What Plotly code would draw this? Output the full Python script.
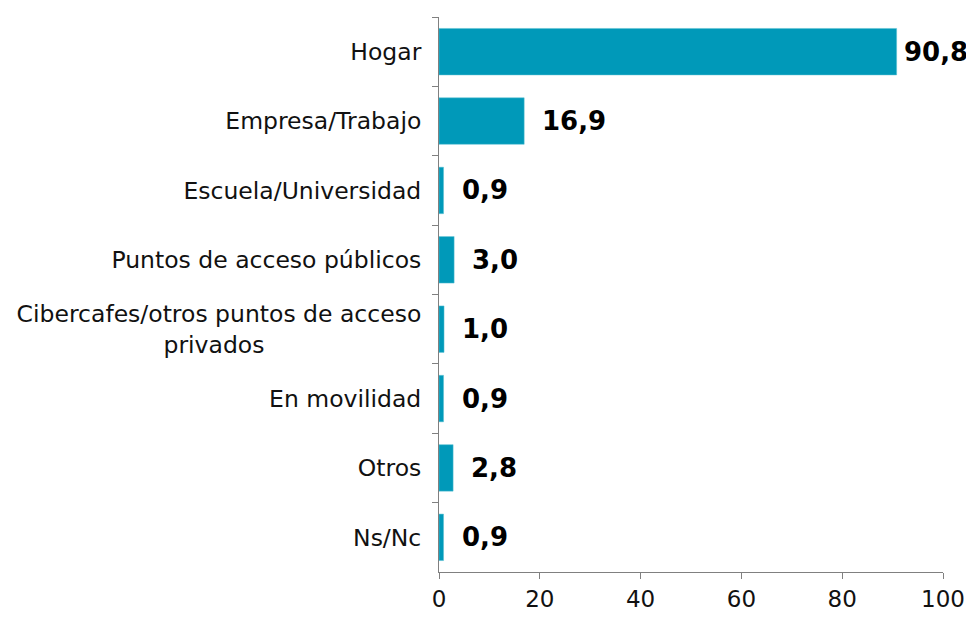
import plotly.graph_objects as go

categories = ["Hogar", "Empresa/Trabajo", "Escuela/Universidad", "Puntos de acceso públicos",
              "Cibercafes/otros puntos de acceso<br>privados" + "\u00a0" * 21,
              "En movilidad", "Otros", "Ns/Nc"]
values = [90.8, 16.9, 0.9, 3.0, 1.0, 0.9, 2.8, 0.9]
value_labels = ["90,8", "16,9", "0,9", "3,0", "1,0", "0,9", "2,8", "0,9"]
x_ticks = [0, 20, 40, 60, 80, 100]

FONT = "DejaVu Sans"
fig = go.Figure(go.Bar(
    y=categories, x=values, orientation="h",
    marker=dict(color="#0099B9", line=dict(color="#5BC0D3", width=0.5)),
    width=0.67,
))
for c, v, t in zip(categories, values, value_labels):
    fig.add_annotation(x=v, y=c, text="<b>" + t + "</b>", showarrow=False,
                       xanchor="left", xshift=(5 if v > 85 else 16),
                       font=dict(family=FONT, size=26, color="black"))

# page body has an 8px default margin; size/margins compensate for it
fig.update_layout(
    width=966, height=613, plot_bgcolor="white", paper_bgcolor="white",
    margin=dict(l=430, r=31, t=9, b=39),
    showlegend=False, font=dict(family=FONT, size=23.5, color="#111"),
)
fig.update_xaxes(range=[0, 100], tickvals=x_ticks, ticks="outside", ticklen=6, tickcolor="#808080",
                 showline=True, linecolor="#808080", linewidth=1, showgrid=False, zeroline=False,
                 tickfont=dict(size=23, color="#111"))
fig.update_yaxes(autorange="reversed", ticks="outside", tickson="boundaries", ticklen=6,
                 tickcolor="#808080", showline=True, linecolor="#808080", linewidth=1,
                 showgrid=False, tickfont=dict(size=23.5, color="#111"), ticklabelstandoff=12)
fig.write_html("out.html")
